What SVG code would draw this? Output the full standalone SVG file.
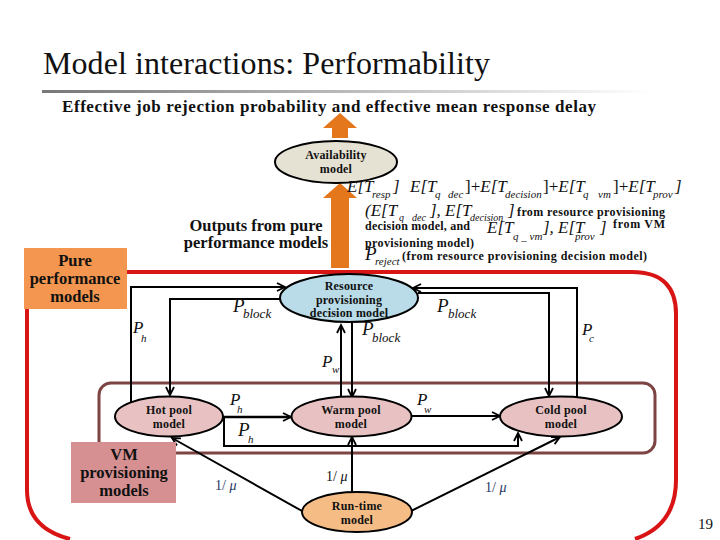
<svg xmlns="http://www.w3.org/2000/svg" width="720" height="540" viewBox="0 0 720 540">
<style>
text{font-family:"Liberation Serif","Times New Roman",serif;fill:#111}
.n{font-size:12px;font-weight:bold;text-anchor:middle;letter-spacing:.2px}
.h{font-size:16.500px;font-weight:bold;text-anchor:middle}
.m{font-size:17px;font-style:italic}
.p{font-size:19px;font-style:italic}
.s{font-size:11px;font-style:italic}
.z{font-size:10px;font-style:italic}
.k{font-size:13px;font-style:italic}
.u{font-style:normal}
.t{font-size:12px;font-weight:bold}
.o{fill:none;stroke:#000;stroke-width:2}
.e{stroke:#000;stroke-width:2}
.mu{font-size:14px}
.navy{fill:#1f3864}
</style>
<defs>
<linearGradient id="g"><stop offset="0" stop-color="#777"/><stop offset="1" stop-color="#fff"/></linearGradient>
<marker id="a" markerUnits="userSpaceOnUse" markerWidth="12" markerHeight="12" refX="9" refY="5" orient="auto"><path d="M1 1L9 5L1 9" fill="none" stroke="#000" stroke-width="1.8"/></marker>
</defs>
<rect width="720" height="540" fill="#fff"/>
<text x="43" y="74" font-size="32" textLength="447">Model interactions: Performability</text>
<rect x="42" y="90" width="610" height="3" fill="url(#g)"/>
<text x="62" y="112" font-size="17" font-weight="bold" textLength="534">Effective job rejection probability and effective mean response delay</text>
<path d="M27 300V490Q27 528 70 539M635 539Q676 525 676 480V316Q677 272 632 272H127" fill="none" stroke="#d81414" stroke-width="4"/>
<rect x="99" y="383" width="556" height="70" rx="12" fill="none" stroke="#7d4444" stroke-width="3"/>
<g id="arrows" fill="#e4761b">
<path d="M332 138V128H323L340 113L357 128H348V138Z"/>
<path d="M331 268V198H323L340 183L357 198H349V268Z"/>
</g>
<g id="connectors">
<path class="o" d="M131 402V287H285" marker-end="url(#a)"/>
<path class="o" d="M280 299H170V395" marker-end="url(#a)"/>
<path class="o" d="M341 397V325" marker-end="url(#a)"/>
<path class="o" d="M352 322V397" marker-end="url(#a)"/>
<path class="o" d="M223 417H291" marker-end="url(#a)" style="stroke-width:2.500px"/>
<path class="o" d="M224 417V446H518V433" marker-end="url(#a)"/>
<path class="o" d="M411 416H500" marker-end="url(#a)"/>
<path class="o" d="M577 397V288H413" marker-end="url(#a)"/>
<path class="o" d="M418 293H549V396" marker-end="url(#a)"/>
<path class="o" d="M352 492V437" marker-end="url(#a)"/>
<path class="o" d="M302 511L172 438" marker-end="url(#a)"/>
<path class="o" d="M411 511L560 437" marker-end="url(#a)"/>
</g>
<g id="availability"><ellipse class="e" cx="336" cy="162" rx="61" ry="21" fill="#e6e2d3"/><text class="n" x="336" y="159">Availability</text><text class="n" x="336" y="173">model</text></g>
<g id="resource"><ellipse class="e" cx="349" cy="298" rx="69" ry="24" fill="#b9dce8"/><text class="n" x="349" y="290">Resource</text><text class="n" x="349" y="304">provisioning</text><text class="n" x="349" y="317">decision model</text></g>
<g id="hot"><ellipse class="e" cx="169" cy="416.500" rx="54" ry="20" fill="#e8c2c2"/><text class="n" x="169" y="414">Hot pool</text><text class="n" x="169" y="428">model</text></g>
<g id="warm"><ellipse class="e" cx="351.500" cy="416.500" rx="60" ry="20" fill="#e8c2c2"/><text class="n" x="351" y="414">Warm pool</text><text class="n" x="351" y="428">model</text></g>
<g id="cold"><ellipse class="e" cx="561" cy="416.500" rx="61" ry="20" fill="#e8c2c2"/><text class="n" x="561" y="414">Cold pool</text><text class="n" x="561" y="428">model</text></g>
<g id="runtime"><ellipse class="e" cx="357" cy="512" rx="55" ry="20" fill="#f5bd85"/><text class="n" x="357" y="510">Run-time</text><text class="n" x="357" y="524">model</text></g>
<g id="pure"><rect x="24" y="248" width="103" height="61" fill="#f4964f"/><text class="h" x="75" y="266">Pure</text><text class="h" x="75" y="284">performance</text><text class="h" x="75" y="302">models</text></g>
<g id="vm"><rect x="71" y="442" width="105" height="61" fill="#d69092"/><text class="h" x="124" y="460">VM</text><text class="h" x="124" y="478">provisioning</text><text class="h" x="124" y="496">models</text></g>
<text class="h" x="256" y="231">Outputs from pure</text>
<text class="h" x="256" y="248">performance models</text>
<g id="formula">
<text class="m" x="347" y="192">E[T<tspan class="s" x="372" y="198">resp</tspan><tspan x="393" y="192">]</tspan><tspan x="410">E[T</tspan><tspan class="s" x="435" y="198">q</tspan><tspan class="s" x="448">dec</tspan><tspan class="u" x="465" y="192">]+</tspan>E[T<tspan class="s" x="505" y="198">decision</tspan><tspan class="u" x="543" y="192">]+</tspan>E[T<tspan class="s" x="583" y="198">q</tspan><tspan class="s" x="598">vm</tspan><tspan class="u" x="613" y="192">]+</tspan>E[T<tspan class="s" x="653" y="198">prov</tspan><tspan x="675" y="192">]</tspan></text>
<text class="m" x="365" y="216">(E[T<tspan class="z" x="399" y="221">q</tspan><tspan class="z" x="412">dec</tspan><tspan x="430" y="216">], E[T</tspan><tspan class="z" x="470" y="221">decision</tspan><tspan x="508" y="216">]</tspan></text>
<text class="t" x="517" y="216" textLength="148">from resource provisioning</text>
<text class="t" x="365" y="230" textLength="105">decision model, and</text>
<text class="m" x="487" y="233">E[T<tspan class="s" x="513" y="240">q _ vm</tspan><tspan x="543" y="233">], E[T</tspan><tspan class="s" x="575" y="240">prov</tspan><tspan x="600" y="233">]</tspan></text>
<text class="t" x="613" y="228" textLength="52">from VM</text>
<text class="t" x="365" y="247" textLength="109">provisioning model)</text>
<text class="p" x="365" y="260">P<tspan class="s" x="375" y="265">reject</tspan></text>
<text class="t" x="402" y="260" textLength="245">(from resource provisioning decision model)</text>
</g>
<g id="labels">
<text class="p" x="233" y="312">P<tspan class="k" x="243" y="318">block</tspan></text>
<text class="m" x="133" y="333">P<tspan class="s" x="141" y="342">h</tspan></text>
<text class="m" x="322" y="367">P<tspan class="s" x="332" y="373">w</tspan></text>
<text class="p" x="362" y="335">P<tspan class="k" x="372" y="342">block</tspan></text>
<text class="m" x="230" y="405">P<tspan class="s" x="237" y="413">h</tspan></text>
<text class="p" x="238" y="436">P<tspan class="s" x="248" y="443">h</tspan></text>
<text class="m" x="417" y="405">P<tspan class="s" x="424" y="413">w</tspan></text>
<text class="p" x="437" y="312">P<tspan class="k" x="448" y="318">block</tspan></text>
<text class="m" x="582" y="335">P<tspan class="s" x="589" y="342">c</tspan></text>
<text x="215" y="490" class="mu navy">1/ <tspan font-style="italic">μ</tspan></text>
<text x="326" y="481" class="mu">1/ <tspan font-style="italic">μ</tspan></text>
<text x="485" y="492" class="mu navy">1/ <tspan font-style="italic">μ</tspan></text>
<text x="698" y="529" font-size="15">19</text>
</g>
</svg>
